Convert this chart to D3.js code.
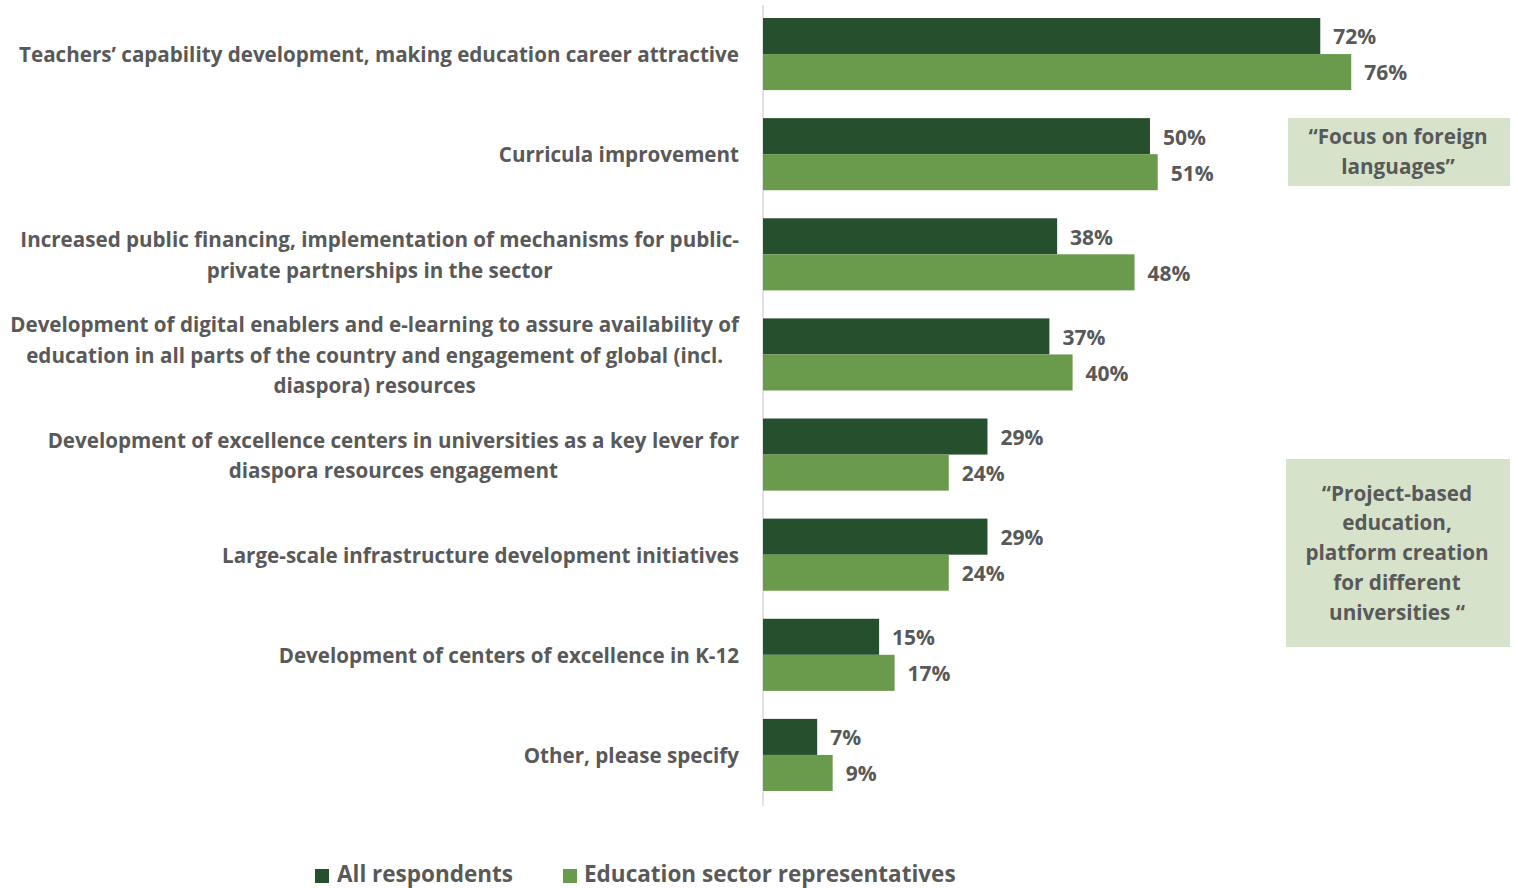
<!DOCTYPE html>
<html><head><meta charset="utf-8">
<script src="https://cdn.jsdelivr.net/npm/d3@7"></script>
<style>
body{margin:0;background:#fff;}
text{font-family:"Open Sans",sans-serif;font-weight:bold;fill:#595959;}
</style></head><body>
<svg id="chart" width="1518" height="888"></svg>
<script>
const categories = [
  ["Teachers’ capability development, making education career attractive"],
  ["Curricula improvement"],
  ["Increased public financing, implementation of mechanisms for public-","private partnerships in the sector"],
  ["Development of digital enablers and e-learning to assure availability of","education in all parts of the country and engagement of global (incl.","diaspora) resources"],
  ["Development of excellence centers in universities as a key lever for","diaspora resources engagement"],
  ["Large-scale infrastructure development initiatives"],
  ["Development of centers of excellence in K-12"],
  ["Other, please specify"]
];
const allRespondents = [72, 50, 38, 37, 29, 29, 15, 7];
const eduSector = [76, 51, 48, 40, 24, 24, 17, 9];
const seriesNames = ["All respondents", "Education sector representatives"];
const colors = ["#264F2D", "#6A9A4B"];
const quotes = [
  ["“Focus on foreign", "languages”"],
  ["“Project-based", "education,", "platform creation", "for different", "universities “"]
];

const svg = d3.select("#chart");
const x0 = 763;
const x = d3.scaleLinear().domain([0, 100]).range([x0, x0 + 774]);
const y = d3.scaleBand().domain(d3.range(categories.length)).range([1, 808]).paddingInner(0.28).paddingOuter(0.17);
const ySub = d3.scaleBand().domain([0, 1]).range([0, y.bandwidth()]);

svg.append("line").attr("x1", x0).attr("x2", x0).attr("y1", 5).attr("y2", 806)
  .attr("stroke", "#d9d9d9").attr("stroke-width", 1.5);

const data = categories.map((c, i) => ({i, vals: [allRespondents[i], eduSector[i]]}));
const g = svg.selectAll("g.cat").data(data).join("g").attr("class", "cat")
  .attr("transform", d => `translate(0,${y(d.i)})`);

g.selectAll("rect").data(d => d.vals.map((v, k) => ({v, k}))).join("rect")
  .attr("x", x(0)).attr("y", d => ySub(d.k)).attr("width", d => x(d.v) - x(0))
  .attr("height", ySub.bandwidth()).attr("fill", d => colors[d.k]);

g.selectAll("text.val").data(d => d.vals.map((v, k) => ({v, k}))).join("text")
  .attr("class", "val").attr("x", d => x(d.v) + 13).attr("y", d => ySub(d.k) + ySub.bandwidth() / 2 + 1)
  .attr("dy", "0.35em").attr("font-size", 21).text(d => d.v + "%");

g.each(function(d) {
  const lines = categories[d.i];
  const lh = 30.5;
  const cy = y.bandwidth() / 2 + 1;
  const t = d3.select(this).append("text").attr("text-anchor", lines.length === 1 ? "end" : "middle")
    .attr("font-size", 20.6);
  lines.forEach((ln, j) => {
    t.append("tspan").attr("x", 0).attr("y", cy + (j - (lines.length - 1) / 2) * lh).attr("dy", "0.35em").text(ln);
  });
  if (lines.length === 1) {
    t.selectAll("tspan").attr("x", 739);
  } else {
    const w = d3.max(t.selectAll("tspan").nodes(), n => n.getComputedTextLength());
    t.selectAll("tspan").attr("x", 739 - w / 2);
  }
});

const boxes = [{x: 1288, y: 118, w: 222, h: 68, lines: quotes[0]}, {x: 1286, y: 459, w: 224, h: 188, lines: quotes[1]}];
boxes.forEach(b => {
  svg.append("rect").attr("x", b.x).attr("y", b.y).attr("width", b.w).attr("height", b.h).attr("fill", "#D6E3CA");
  const t = svg.append("text").attr("text-anchor", "middle").attr("font-size", 20.7);
  const cy = b.y + b.h / 2;
  b.lines.forEach((ln, j) => {
    t.append("tspan").attr("x", b.x + b.w / 2 - 1).attr("y", cy + (j - (b.lines.length - 1) / 2) * 29.8).attr("dy", "0.35em").text(ln);
  });
});

const lg = svg.append("g");
const legX = [315, 563];
seriesNames.forEach((s, k) => {
  lg.append("rect").attr("x", legX[k]).attr("y", 869).attr("width", 14).attr("height", 14).attr("fill", colors[k]);
  lg.append("text").attr("x", legX[k] + 22 - k).attr("y", 874).attr("dy", "0.35em").attr("font-size", 22.5).text(s);
});
</script>
</body></html>
